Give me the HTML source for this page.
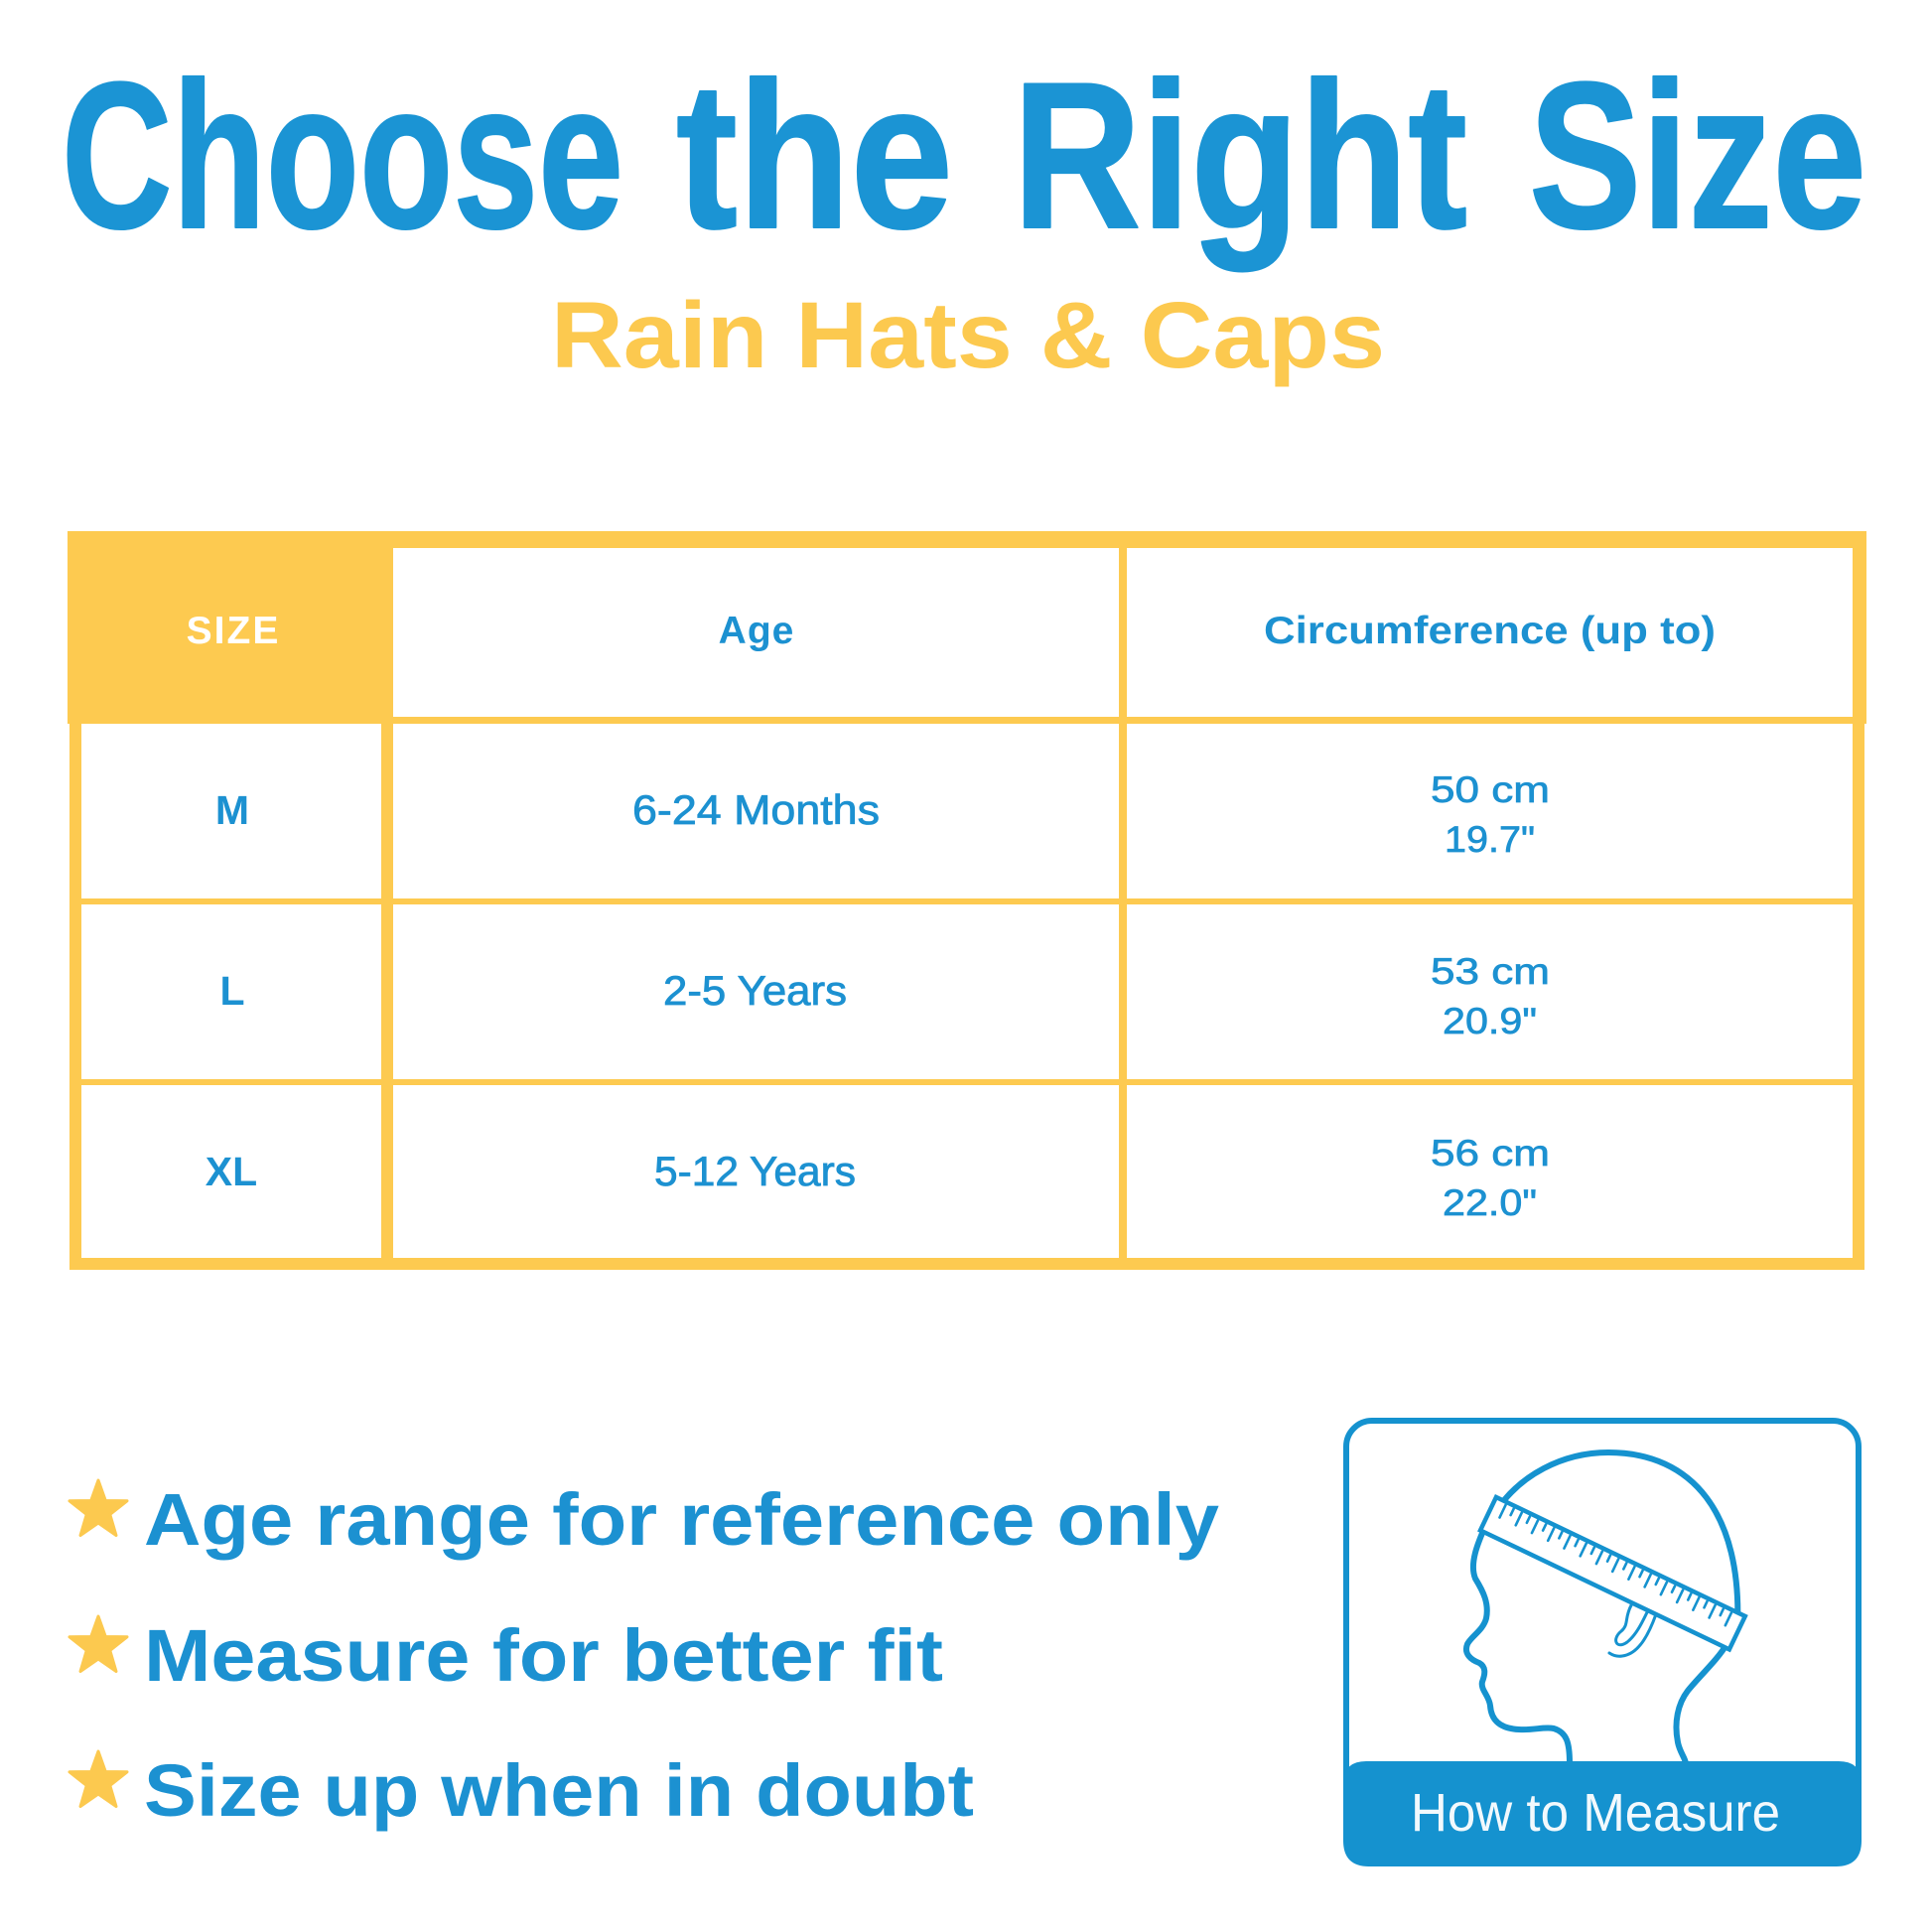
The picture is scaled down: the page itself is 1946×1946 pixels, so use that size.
<!DOCTYPE html>
<html>
<head>
<meta charset="utf-8">
<style>
  html,body{margin:0;padding:0;background:#fff;}
  body{width:1946px;height:1946px;overflow:hidden;}
  svg{display:block;}
  text{font-family:"Liberation Sans", Arial, sans-serif;}
</style>
</head>
<body>
<svg width="1946" height="1946" viewBox="0 0 1946 1946" xmlns="http://www.w3.org/2000/svg">
  <rect x="0" y="0" width="1946" height="1946" fill="#ffffff"/>

  <!-- Title -->
  <g fill="#1b94d4" stroke="#1b94d4" stroke-width="2" stroke-linejoin="round" font-weight="bold" font-size="210">
    <text x="62" y="229" textLength="566" lengthAdjust="spacingAndGlyphs">Choose</text>
    <text x="681" y="229" textLength="279" lengthAdjust="spacingAndGlyphs">the</text>
    <text x="1020" y="229" textLength="458" lengthAdjust="spacingAndGlyphs">Right</text>
    <text x="1540" y="229" textLength="340" lengthAdjust="spacingAndGlyphs">Size</text>
  </g>

  <!-- Subtitle -->
  <text x="555" y="370" font-size="95" font-weight="bold" fill="#fcc94f" textLength="840" lengthAdjust="spacingAndGlyphs">Rain Hats &amp; Caps</text>

  <!-- Table -->
  <g fill="#fdca50">
    <rect x="68" y="535" width="326" height="193"/>
    <rect x="68" y="535" width="1812" height="17"/>
    <rect x="68" y="722" width="1812" height="7"/>
    <rect x="70" y="722" width="12" height="557"/>
    <rect x="384" y="535" width="12" height="744"/>
    <rect x="1127" y="535" width="8" height="744"/>
    <rect x="1866" y="535" width="14" height="194"/>
    <rect x="1866" y="722" width="12" height="557"/>
    <rect x="70" y="905" width="1808" height="6"/>
    <rect x="70" y="1087" width="1808" height="6"/>
    <rect x="70" y="1267" width="1808" height="12"/>
  </g>

  <!-- Header text -->
  <text x="235" y="648" font-size="39" font-weight="bold" fill="#ffffff" text-anchor="middle" letter-spacing="2">SIZE</text>
  <text x="762" y="648" font-size="39" font-weight="bold" fill="#1c91d1" text-anchor="middle" letter-spacing="1">Age</text>
  <text x="1273" y="648" font-size="39" font-weight="bold" fill="#1c91d1" textLength="455" lengthAdjust="spacingAndGlyphs">Circumference (up to)</text>

  <!-- Body text -->
  <g font-size="41" font-weight="bold" fill="#1c91d1" text-anchor="middle">
    <text x="234" y="830">M</text>
    <text x="234" y="1012">L</text>
    <text x="233" y="1194">XL</text>
  </g>
  <g font-size="42" fill="#1c91d1" stroke="#1c91d1" stroke-width="0.8">
    <text x="637" y="830" textLength="249" lengthAdjust="spacingAndGlyphs">6-24 Months</text>
    <text x="668" y="1012" textLength="185" lengthAdjust="spacingAndGlyphs">2-5 Years</text>
    <text x="659" y="1194" textLength="203" lengthAdjust="spacingAndGlyphs">5-12 Years</text>
  </g>
  <g font-size="37" fill="#1c91d1" stroke="#1c91d1" stroke-width="0.7">
    <text x="1441" y="808" textLength="120" lengthAdjust="spacingAndGlyphs">50 cm</text>
    <text x="1455" y="858" textLength="91" lengthAdjust="spacingAndGlyphs">19.7"</text>
    <text x="1441" y="991" textLength="120" lengthAdjust="spacingAndGlyphs">53 cm</text>
    <text x="1453" y="1041" textLength="95" lengthAdjust="spacingAndGlyphs">20.9"</text>
    <text x="1441" y="1174" textLength="120" lengthAdjust="spacingAndGlyphs">56 cm</text>
    <text x="1453" y="1224" textLength="95" lengthAdjust="spacingAndGlyphs">22.0"</text>
  </g>

  <!-- Stars -->
  <g fill="#fcc94f" stroke="#fcc94f" stroke-width="3" stroke-linejoin="round">
    <polygon points="99,1491 106.3,1511.5 128,1511.8 110.8,1525.4 117,1546.5 99,1534 81,1546.5 87.2,1525.4 70,1511.8 91.7,1511.5"/>
    <polygon points="99,1628 106.3,1648.5 128,1648.8 110.8,1662.4 117,1683.5 99,1671 81,1683.5 87.2,1662.4 70,1648.8 91.7,1648.5"/>
    <polygon points="99,1764 106.3,1784.5 128,1784.8 110.8,1798.4 117,1819.5 99,1807 81,1819.5 87.2,1798.4 70,1784.8 91.7,1784.5"/>
  </g>

  <!-- Bullet text -->
  <g font-size="74" font-weight="bold" fill="#1c91d1">
    <text x="145" y="1556" textLength="1083" lengthAdjust="spacingAndGlyphs">Age range for reference only</text>
    <text x="145" y="1693" textLength="805" lengthAdjust="spacingAndGlyphs">Measure for better fit</text>
    <text x="145" y="1829" textLength="836" lengthAdjust="spacingAndGlyphs">Size up when in doubt</text>
  </g>

  <!-- How to measure box -->
  <rect x="1356" y="1431" width="516" height="446" rx="26" ry="26" fill="none" stroke="#1592cf" stroke-width="6"/>
  <path d="M1353,1797 Q1353,1774 1376,1774 L1852,1774 Q1875,1774 1875,1797 L1875,1854 Q1875,1880 1849,1880 L1379,1880 Q1353,1880 1353,1854 Z" fill="#1592cf"/>
  <text x="1421" y="1844" font-size="54" fill="#f2f9fd" textLength="372" lengthAdjust="spacingAndGlyphs">How to Measure</text>

  <!-- Head -->
  <g fill="none" stroke="#1592cf" stroke-width="6" stroke-linecap="round" stroke-linejoin="round">
    <path d="M1505,1525 C1530,1485 1575,1463 1620,1463 C1705,1463 1755,1525 1750,1640"/>
    <path d="M1497,1535 C1488,1555 1480,1575 1486,1590 C1494,1603 1500,1615 1497,1630 C1494,1642 1482,1648 1478,1656 C1474,1666 1482,1672 1490,1675 C1497,1679 1496,1686 1493,1694 C1491,1702 1500,1708 1501,1718 C1502,1732 1510,1741 1530,1742 C1545,1743 1555,1739 1565,1741 C1578,1745 1581,1755 1581,1776"/>
    <path d="M1740,1655 C1730,1672 1712,1688 1700,1703 C1690,1716 1686,1735 1690,1755 C1692,1765 1697,1770 1698,1776"/>
  </g>
  <g fill="none" stroke="#1592cf" stroke-width="3" stroke-linecap="round">
    <path d="M1668,1626 C1660,1648 1650,1666 1634,1668 C1628,1669 1624,1667 1621,1665"/>
    <path d="M1643,1617 C1636,1630 1641,1636 1633,1643 C1623,1651 1628,1662 1639,1654 C1649,1646 1655,1632 1660,1622"/>
  </g>
  <!-- Tape -->
  <g transform="translate(1507,1508) rotate(25.56)">
    <rect x="0" y="0" width="278" height="37" fill="#ffffff" stroke="#1592cf" stroke-width="4.5"/>
    <g stroke="#1592cf" stroke-width="2.6" stroke-linecap="round">
      <line x1="12" y1="3" x2="12" y2="17"/>
      <line x1="21" y1="3" x2="21" y2="10"/>
      <line x1="30" y1="3" x2="30" y2="17"/>
      <line x1="39" y1="3" x2="39" y2="10"/>
      <line x1="48" y1="3" x2="48" y2="17"/>
      <line x1="57" y1="3" x2="57" y2="10"/>
      <line x1="66" y1="3" x2="66" y2="17"/>
      <line x1="75" y1="3" x2="75" y2="10"/>
      <line x1="84" y1="3" x2="84" y2="17"/>
      <line x1="93" y1="3" x2="93" y2="10"/>
      <line x1="102" y1="3" x2="102" y2="17"/>
      <line x1="111" y1="3" x2="111" y2="10"/>
      <line x1="120" y1="3" x2="120" y2="17"/>
      <line x1="129" y1="3" x2="129" y2="10"/>
      <line x1="138" y1="3" x2="138" y2="17"/>
      <line x1="147" y1="3" x2="147" y2="10"/>
      <line x1="156" y1="3" x2="156" y2="17"/>
      <line x1="165" y1="3" x2="165" y2="10"/>
      <line x1="174" y1="3" x2="174" y2="17"/>
      <line x1="183" y1="3" x2="183" y2="10"/>
      <line x1="192" y1="3" x2="192" y2="17"/>
      <line x1="201" y1="3" x2="201" y2="10"/>
      <line x1="210" y1="3" x2="210" y2="17"/>
      <line x1="219" y1="3" x2="219" y2="10"/>
      <line x1="228" y1="3" x2="228" y2="17"/>
      <line x1="237" y1="3" x2="237" y2="10"/>
      <line x1="246" y1="3" x2="246" y2="17"/>
      <line x1="255" y1="3" x2="255" y2="10"/>
      <line x1="264" y1="3" x2="264" y2="17"/>
    </g>
  </g>
</svg>
</body>
</html>
